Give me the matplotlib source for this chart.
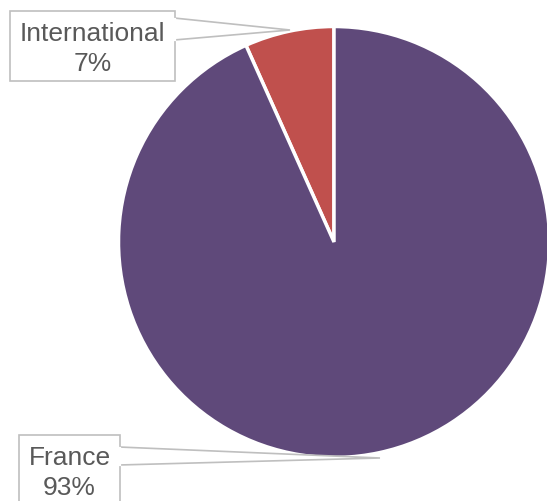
import matplotlib.pyplot as plt
from matplotlib.patches import Polygon, Rectangle

# Daten
labels = ['International', 'France']
shares = [6.7, 93.3]
colors = ['#C0504D', '#5F497A']

W, H = 547, 501
plt.rcParams['font.family'] = ['Liberation Sans', 'DejaVu Sans']

fig = plt.figure(figsize=(W / 100, H / 100), dpi=100)
ax = fig.add_axes([0, 0, 1, 1])

# Kuchen (Pixelkoordinaten, y von unten)
cx, cy, r = 334, H - 242, 215.5
ax.pie(shares, colors=colors, startangle=90, counterclock=True,
       center=(cx, cy), radius=r, frame=True,
       wedgeprops=dict(edgecolor='white', linewidth=2.5))
ax.set_xlim(0, W)
ax.set_ylim(0, H)
ax.set_aspect('auto')
ax.axis('off')

def y(v):
    return H - v

# Beschriftungen mit Callouts
callouts = [
    # box (x0, y0, x1, y1) in Pixel von oben, Keil-Basis (oben, unten), Spitze
    dict(box=(10, 11, 175, 81), base=(18, 40), tip=(290, 30)),
    dict(box=(19, 435, 120, 520), base=(447, 465), tip=(380, 458)),
]
grey = '#BFBFBF'
for lab, val, c in zip(labels, shares, callouts):
    x0, y0, x1, y1 = c['box']
    b0, b1 = c['base']
    tx, ty = c['tip']
    ax.add_patch(Polygon([(x1 - 1, y(b0)), (tx, y(ty)), (x1 - 1, y(b1))],
                         closed=True, facecolor='white', edgecolor=grey,
                         linewidth=1.2, zorder=3))
    ax.add_patch(Rectangle((x0, y(y1)), x1 - x0, y1 - y0, facecolor='white',
                           edgecolor=grey, linewidth=1.2, zorder=4))
    ax.plot([x1, x1], [y(b0) - 0.5, y(b1) + 0.5], color='white', linewidth=1.6, zorder=5)
    xm = (x0 + x1) / 2
    ax.text(xm, y(y0 + 23), lab, ha='center', va='center', fontsize=19,
            color='#595959', zorder=6)
    ax.text(xm, y(y0 + 53), f'{round(val)}%', ha='center', va='center', fontsize=19,
            color='#595959', zorder=6)

fig.savefig('out.png', dpi=100)
